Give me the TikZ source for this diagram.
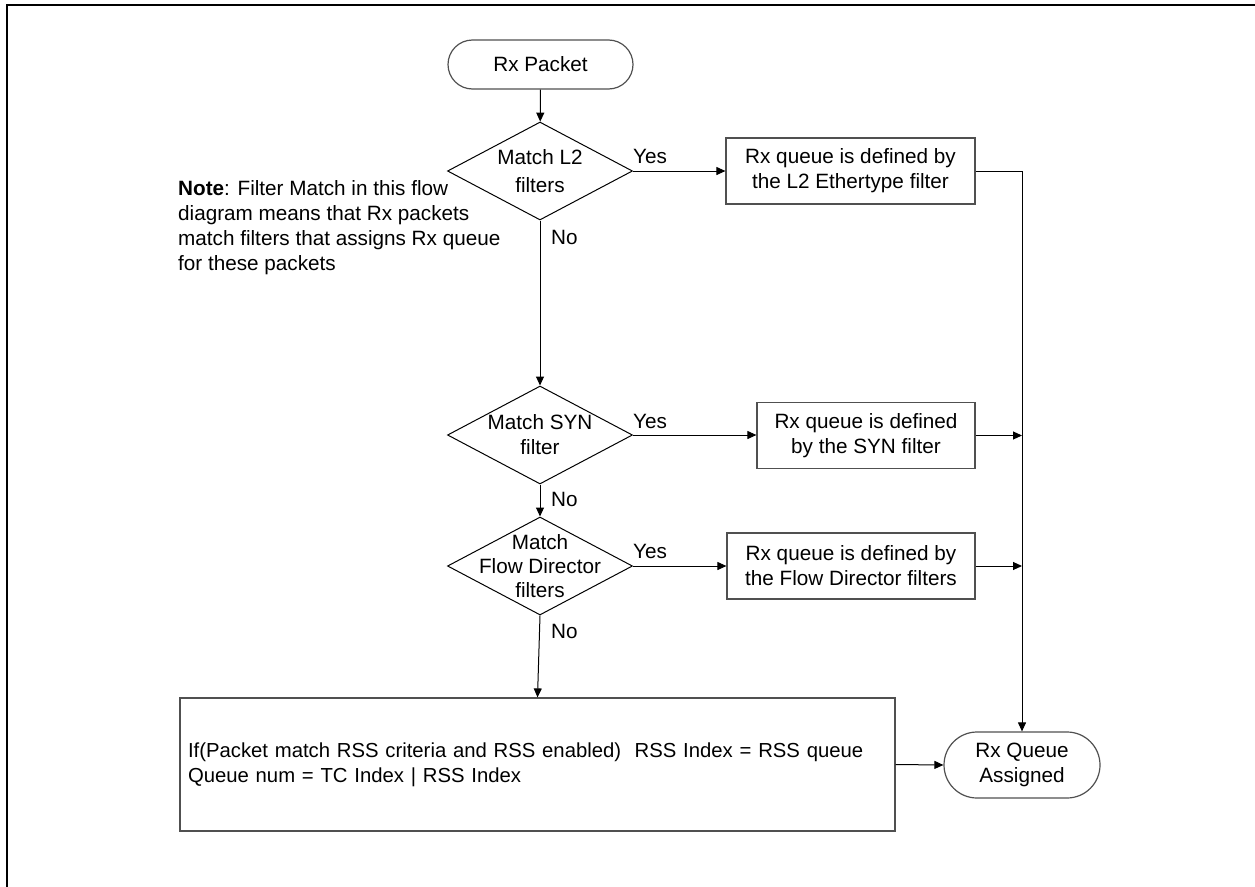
\documentclass[tikz,border=0pt]{standalone}
\usepackage{fontspec}
\setmainfont{Liberation Sans}
\usetikzlibrary{shapes.geometric, shapes.misc, arrows.meta, positioning}
\definecolor{rxedge}{RGB}{80,80,80}
\definecolor{rxline}{RGB}{0,0,0}

\begin{document}
\begin{tikzpicture}[x=1pt, y=-1pt, font=\fontsize{20.7}{25}\selectfont,
  term/.style={draw=rxedge, line width=1.2pt, rounded rectangle, align=center, inner sep=0pt},
  decision/.style={draw=rxline, line width=1pt, diamond, minimum width=185pt, minimum height=98pt, inner sep=0pt},
  stepbox/.style={draw=rxedge, line width=1.2pt, align=center, inner sep=0pt, minimum height=66pt},
  flow/.style={draw=rxline, line width=1pt, -{Triangle[length=9pt,width=8pt]}},
  lbl/.style={inner sep=0pt}]
\useasboundingbox (0,0) rectangle (1255,886);
\draw[line width=2.5pt] (7,900) -- (7,5) -- (1270,5);
% terminators
\node[term, minimum width=185pt, minimum height=49pt] (rxpkt) at (540.5,64.5) {Rx Packet};
\node[term, minimum width=156pt, minimum height=66pt] (assigned) at (1022,765) {Rx Queue\\Assigned};
% decisions
\node[decision] (l2) at (540,171) {};
\node[lbl, align=center, font=\fontsize{20.7}{28}\selectfont] (l2txt) at (l2) {Match L2\\filters};
\node[decision] (syn) at (540,435) {};
\node[lbl, align=center] (syntxt) at (syn) {Match SYN\\filter};
\node[decision] (fd) at (540,566) {};
\node[lbl, align=center, font=\fontsize{20.7}{24}\selectfont] (fdtxt) at (fd) {Match\\Flow Director\\filters};
% queue boxes
\node[stepbox, minimum width=249pt] (l2box) at (850.5,171) {Rx queue is defined by\\the L2 Ethertype filter};
\node[stepbox, minimum width=218pt] (synbox) at (866,435.5) {Rx queue is defined\\by the SYN filter};
\node[stepbox, minimum width=248pt] (fdbox) at (851,566) {Rx queue is defined by\\the Flow Director filters};
\node[stepbox, minimum width=715pt, minimum height=133pt, text width=699pt, inner xsep=8pt, align=left,
  font=\fontsize{20.3}{25}\selectfont] (rss) at (537.5,764.5)
  {If(Packet match RSS criteria and RSS enabled)\ \ RSS Index = RSS queue\\Queue num = TC Index | RSS Index};
% note
\node[lbl, anchor=north west, align=left] (note) at (178,180)
  {\textbf{Note}: Filter Match in this flow\\diagram means that Rx packets\\match filters that assigns Rx queue\\for these packets};
% yes / no labels
\node[lbl, above right=7pt and 0pt of l2.east] (l2yes) {Yes};
\node[lbl, above right=6pt and 0pt of syn.east] (synyes) {Yes};
\node[lbl, above right=7pt and 0pt of fd.east] (fdyes) {Yes};
\node[lbl, below right=10pt and 11pt of l2.south, anchor=north west] (l2no) {No};
\node[lbl, below right=8pt and 11pt of syn.south, anchor=north west] (synno) {No};
\node[lbl, below right=9pt and 11pt of fd.south, anchor=north west] (fdno) {No};
% connectors
\draw[flow] (rxpkt) -- (l2);
\draw[flow] (l2.east) -- (l2.east -| l2box.west);
\draw[flow] (l2.south) -- (syn.north);
\draw[flow] (syn.east) -- (syn.east -| synbox.west);
\draw[flow] (syn.south) -- (fd.north);
\draw[flow] (fd.east) -- (fd.east -| fdbox.west);
\draw[flow] (fd.south) -- (rss.north);
\draw[flow] (l2box.east) -| (assigned.north);
\draw[flow] (synbox.east) -- (synbox.east -| assigned.north);
\draw[flow] (fdbox.east) -- (fdbox.east -| assigned.north);
\draw[flow] (rss.east) -- (assigned.west);
\end{tikzpicture}
\end{document}
